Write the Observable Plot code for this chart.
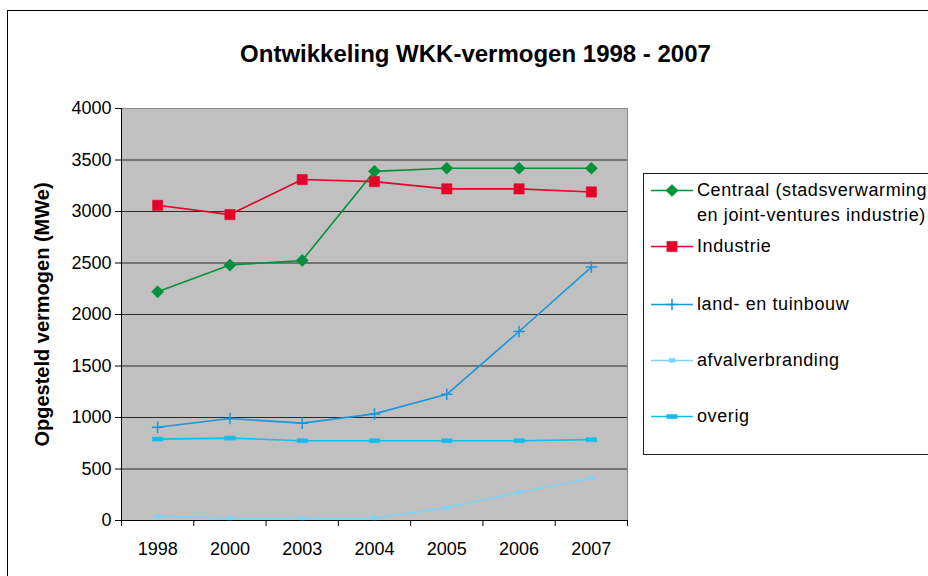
<!DOCTYPE html>
<html>
<head>
<meta charset="utf-8">
<script src="https://cdn.jsdelivr.net/npm/d3@7"></script>
<script src="https://cdn.jsdelivr.net/npm/@observablehq/plot@0.6"></script>
<style>
  html, body { margin: 0; padding: 0; background: #fff; overflow: hidden; }
  #wrap { position: relative; width: 928px; height: 576px; overflow: hidden; font-family: "Liberation Sans", Arial, sans-serif; }
  #outer { position: absolute; left: 7px; top: 10px; width: 1000px; height: 700px; border: 1px solid #000; box-sizing: border-box; }
  #chart { position: absolute; left: 0; top: 0; }
  #legend { position: absolute; left: 643px; top: 173px; width: 320px; height: 282px; border: 1px solid #222; background: #fff; box-sizing: border-box; }
  .item { position: absolute; left: 0; }
  .item svg { position: absolute; left: 7px; top: 0; }
  .item span { position: absolute; left: 53px; top: 0; font-size: 18px; line-height: 25px; white-space: pre; color: #000; letter-spacing: 0.6px; }
</style>
</head>
<body>
<div id="wrap">
  <div id="outer"></div>
  <div id="chart"></div>
  <div id="legend"></div>
</div>
<script>
const years = ["1998", "2000", "2003", "2004", "2005", "2006", "2007"];
const centraal = [2220, 2480, 2525, 3390, 3420, 3420, 3420];
const industrie = [3060, 2970, 3310, 3290, 3220, 3220, 3190];
const landTuinbouw = [905, 990, 945, 1035, 1225, 1835, 2460];
const afvalverbranding = [40, 25, 25, 25, 125, 275, 410];
const overig = [790, 800, 775, 775, 775, 775, 785];

const seriesNames = ["Centraal (stadsverwarming\nen joint-ventures industrie)", "Industrie", "land- en tuinbouw", "afvalverbranding", "overig"];
const seriesValues = [centraal, industrie, landTuinbouw, afvalverbranding, overig];
const seriesColors = ["#04913D", "#E4002B", "#1B96D9", "#7DD2F6", "#12BDEE"];
const yTicks = [0, 500, 1000, 1500, 2000, 2500, 3000, 3500, 4000];
const titleText = "Ontwikkeling WKK-vermogen 1998 - 2007";
const yLabel = "Opgesteld vermogen (MWe)";

// custom marker symbols (size = area in px^2)
const dashSymbol = { draw(ctx, size) { const w = Math.sqrt(size) * 1.3; ctx.rect(-w / 2, -2, w, 4); } };
const smallSquare = { draw(ctx, size) { const w = Math.sqrt(size); ctx.rect(-w / 2, -w / 3, w, w * 2 / 3); } };
const squareSym = { draw(ctx, size) { const w = Math.sqrt(size); ctx.rect(-w / 2, -w / 2, w, w); } };
const diamondSym = { draw(ctx, size) { const r = Math.sqrt(size) / 1.45; ctx.moveTo(0, -r); ctx.lineTo(r, 0); ctx.lineTo(0, r); ctx.lineTo(-r, 0); ctx.closePath(); } };
const plusSym = { draw(ctx, size) { const r = Math.sqrt(size) / 2; ctx.moveTo(-r, 0); ctx.lineTo(r, 0); ctx.moveTo(0, -r); ctx.lineTo(0, r); } };

const markerSpec = [
  { symbol: diamondSym, r: 5, fill: true },
  { symbol: squareSym, r: 5.8, fill: true },
  { symbol: plusSym, r: 6.5, fill: false },
  { symbol: smallSquare, r: 3.2, fill: true },
  { symbol: dashSymbol, r: 4.6, fill: true }
];

const rows = [];
seriesValues.forEach((vals, s) => vals.forEach((v, i) => rows.push({ s, i, year: years[i], value: v })));
const idx = d3.range(years.length);
const bounds = d3.range(years.length + 1).map(k => k - 0.5);

const marks = [
  Plot.frame({ fill: "#C0C0C0", stroke: "#8a8a8a" }),
  Plot.ruleY(yTicks.filter(v => v > 0 && v < 4000), { stroke: "#2a2a2a", strokeWidth: 1 }),
  Plot.axisY({ ticks: yTicks, tickSize: 6, tickPadding: 4, label: null, tickFormat: d => String(d), fontSize: 18 }),
  Plot.ruleX([-0.5], { stroke: "#000" }),
  Plot.ruleY([0], { stroke: "#000" }),
  Plot.axisX({ ticks: bounds, tickSize: 6, tickFormat: () => "", label: null }),
  Plot.axisX({ ticks: idx, tickSize: 0, tickPadding: 22, tickFormat: i => years[i], label: null, fontSize: 18 }),
];
seriesValues.forEach((vals, s) => {
  const data = rows.filter(r => r.s === s);
  marks.push(Plot.line(data, { x: "i", y: "value", stroke: seriesColors[s], strokeWidth: 1.6 }));
  const m = markerSpec[s];
  marks.push(Plot.dot(data, {
    x: "i", y: "value", symbol: m.symbol, r: m.r,
    fill: m.fill ? seriesColors[s] : "none",
    stroke: seriesColors[s], strokeWidth: m.fill ? 0.5 : 1.5
  }));
});
marks.push(Plot.text([titleText], { frameAnchor: "top", dx: 101, dy: -64, fontSize: 24, fontWeight: "bold", text: d => d }));
marks.push(Plot.text([yLabel], { frameAnchor: "left", textAnchor: "middle", dx: -79, rotate: -90, fontSize: 20, fontWeight: "bold", text: d => d }));

const chart = Plot.plot({
  width: 928, height: 576,
  marginLeft: 121, marginRight: 301, marginTop: 108, marginBottom: 56,
  style: { background: "transparent", fontFamily: "'Liberation Sans', Arial, sans-serif", fontSize: "17px", color: "#000", overflow: "visible" },
  x: { type: "linear", domain: [-0.5, 6.5], axis: null },
  y: { domain: [0, 4000], axis: null },
  marks
});
document.getElementById("chart").appendChild(chart);

// legend
const legendTops = [4, 60, 118, 174, 230]; // row tops inside box
const legend = d3.select("#legend");
seriesNames.forEach((name, s) => {
  const item = legend.append("div").attr("class", "item").style("top", legendTops[s] + "px");
  const svg = item.append("svg").attr("width", 44).attr("height", 25);
  svg.append("line").attr("x1", 0).attr("x2", 42).attr("y1", 12.5).attr("y2", 12.5)
    .attr("stroke", seriesColors[s]).attr("stroke-width", 1.6);
  const m = markerSpec[s];
  svg.append("path").attr("transform", "translate(21,12.5)")
    .attr("d", d3.symbol(m.symbol, Math.PI * m.r * m.r)())
    .attr("fill", m.fill ? seriesColors[s] : "none")
    .attr("stroke", seriesColors[s]).attr("stroke-width", m.fill ? 0.5 : 1.5);
  item.append("span").text(name);
});
</script>
</body>
</html>
